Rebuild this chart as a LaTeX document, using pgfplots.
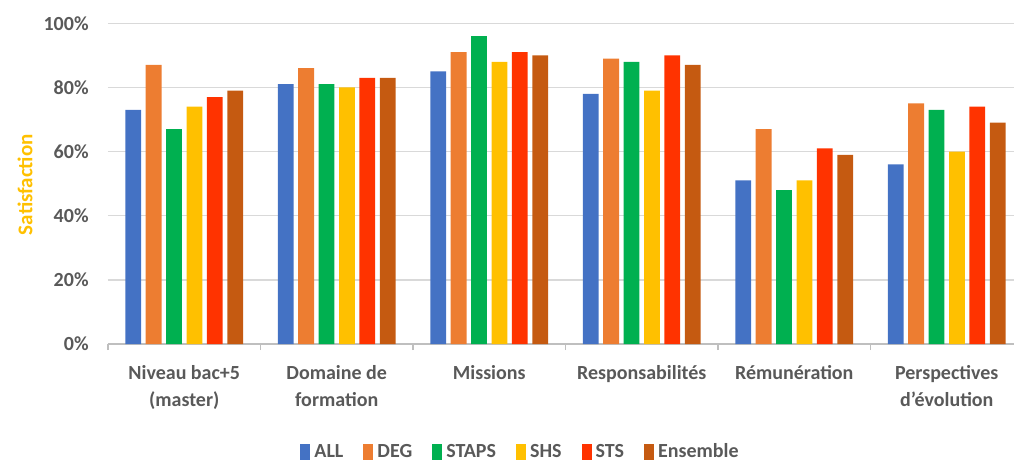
\documentclass[border=0pt]{standalone}
\usepackage{pgfplots}
\pgfplotsset{compat=1.18}
\usepackage{fontspec}
\setmainfont{Carlito}
\definecolor{cALL}{HTML}{4472C4}
\definecolor{cDEG}{HTML}{ED7D31}
\definecolor{cSTAPS}{HTML}{00B050}
\definecolor{cSHS}{HTML}{FFC000}
\definecolor{cSTS}{HTML}{FF3300}
\definecolor{cENS}{HTML}{C55A11}
\definecolor{ctext}{HTML}{595959}
\definecolor{cgrid}{HTML}{D9D9D9}
\definecolor{caxis}{HTML}{BFBFBF}
\begin{document}
\begin{tikzpicture}
\useasboundingbox (-54pt,-59pt) rectangle (453pt,172pt);
\begin{axis}[
  at={(0,0)}, anchor=south west,
  x=76.25pt, y=1.6035pt,
  xmin=-0.5, xmax=5.44, ymin=0, ymax=100,
  ybar=2.3pt, bar width=7.9pt,
  axis x line*=bottom, axis y line*=left,
  x axis line style={draw=caxis, line width=0.65pt, -},
  y axis line style={draw=none},
  ytick={0,20,40,60,80,100},
  yticklabel={\pgfmathprintnumber{\tick}\%},
  ymajorgrids, grid style={draw=cgrid, line width=0.65pt},
  ytick style={draw=none},
  xtick={0,1,2,3,4,5},
  xticklabels={Niveau bac+5\\(master), Domaine de\\formation, Missions, Responsabilités, Rémunération, Perspectives\\d'évolution},
  major tick length=0pt,
  minor xtick={-0.5,0.5,1.5,2.5,3.5,4.5},
  minor tick length=3pt,
  tick align=outside,
  minor tick style={draw=caxis, line width=0.65pt},
  /pgf/number format/assume math mode=true,
  tick label style={font=\bfseries\fontsize{10}{13.3}\selectfont, text=ctext},
  xticklabel style={align=center, inner sep=0pt, anchor=north, yshift=-10.5pt},
  yticklabel style={inner sep=0pt, anchor=east, xshift=-9.5pt},
  ylabel={Satisfaction},
  every axis y label/.style={at={(rel axis cs:-0.0916,0.497)}, anchor=center, rotate=90, font=\bfseries\fontsize{10.5}{12}\selectfont, text=cSHS},
  legend columns=-1,
  legend style={draw=none, fill=none, at={(rel axis cs:0.4565,-0.337)}, anchor=center,
    font=\bfseries\fontsize{10}{12}\selectfont, text=ctext,
    /tikz/every even column/.append style={column sep=8pt}},
  legend image code/.code={\fill[#1,/tikz/.cd,draw=none] (0pt,-0.38em) rectangle (5pt,0.42em);},
]
\addplot[fill=cALL, draw=none] coordinates {(0,73) (1,81) (2,85) (3,78) (4,51) (5,56)};
\addplot[fill=cDEG, draw=none] coordinates {(0,87) (1,86) (2,91) (3,89) (4,67) (5,75)};
\addplot[fill=cSTAPS, draw=none] coordinates {(0,67) (1,81) (2,96) (3,88) (4,48) (5,73)};
\addplot[fill=cSHS, draw=none] coordinates {(0,74) (1,80) (2,88) (3,79) (4,51) (5,60)};
\addplot[fill=cSTS, draw=none] coordinates {(0,77) (1,83) (2,91) (3,90) (4,61) (5,74)};
\addplot[fill=cENS, draw=none] coordinates {(0,79) (1,83) (2,90) (3,87) (4,59) (5,69)};
\legend{ALL, DEG, STAPS, SHS, STS, Ensemble}
\end{axis}
\end{tikzpicture}
\end{document}
